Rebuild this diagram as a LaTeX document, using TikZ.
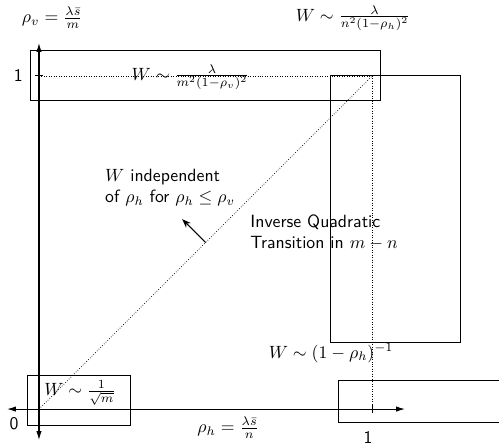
\documentclass[tikz,border=0pt]{standalone}
\usetikzlibrary{arrows.meta, positioning, calc}

\begin{document}
\begin{tikzpicture}[x=6.6cm, y=6.6cm,
    every node/.style={font=\sffamily},
    axis/.style={{Latex[length=5pt,width=3pt]}-{Latex[length=5pt,width=3pt]}, semithick},
    regime/.style={draw, semithick},
    guide/.style={densely dotted, thin},
    lbl/.style={align=left, anchor=west, font=\sffamily},
    arr/.style={-{Stealth[length=5pt]}, semithick},
  ]
  \useasboundingbox (-0.117,-0.114) rectangle (1.381,1.228);

  % ── Axes ──
  \coordinate (o) at (0,0);
  \coordinate (xl) at (-0.096,0);
  \coordinate (xr) at (1.099,0);
  \coordinate (yb) at (0,-0.093);
  \coordinate (yt) at (0,1.099);
  \coordinate (one) at (1,1);
  \coordinate (xone) at (1,0);
  \coordinate (yone) at (0,1);
  \coordinate (xdot) at (1,-0.012);
  \draw[axis] (xl) -- (xr);
  \draw[axis] (yb) -- (yt);
  \draw[semithick] ($(xone)+(0,-0.012)$) -- ($(xone)+(0,0.012)$);
  \draw[semithick] ($(yone)+(-0.012,0)$) -- ($(yone)+(0.012,0)$);

  % ── Guides ──
  \draw[guide] (yone) -- (one);
  \draw[guide] (one) -- (xdot);
  \draw[guide] (o) -- (one);

  % ── Regimes ──
  \draw[regime] (-0.025,0.925) rectangle (1.025,1.075);
  \draw[regime] (0.875,0.2) rectangle (1.265,1.0);
  \draw[regime] (-0.035,-0.05) rectangle (0.275,0.1);
  \draw[regime] (0.9,-0.04) rectangle (1.45,0.087);

  % ── Axis labels ──
  \node (rv) at (0.04,1.174) {$\rho_v = \frac{\lambda\bar{s}}{m}$};
  \node (rh) at (0.568,-0.057) {$\rho_h = \frac{\lambda\bar{s}}{n}$};
  \node (ly1) at (-0.062,1.0) {1};
  \node (lx1) at (0.988,-0.084) {1};
  \node (l0) at (-0.075,-0.045) {0};

  % ── Regime labels ──
  \node (wtop) at (0.455,0.997) {$W \sim \frac{\lambda}{m^2(1-\rho_v)^2}$};
  \node (wcorner) at (0.943,1.174) {$W \sim \frac{\lambda}{n^2(1-\rho_h)^2}$};
  \node (wright) at (0.877,0.168) {$W \sim (1-\rho_h)^{-1}$};
  \node (wsmall) at (0.123,0.048) {$W \sim \frac{1}{\sqrt{m}}$};
  \node[lbl] (indep) at (0.18,0.664) {$W$ independent\\of $\rho_h$ for $\rho_h \le \rho_v$};
  \node[lbl] (trans) at (0.616,0.53) {Inverse Quadratic\\Transition in $m-n$};

  \coordinate (diag) at (0.5,0.5);
  \coordinate (tip) at (0.43,0.57);
  \draw[arr] (diag) -- (tip);
\end{tikzpicture}
\end{document}
